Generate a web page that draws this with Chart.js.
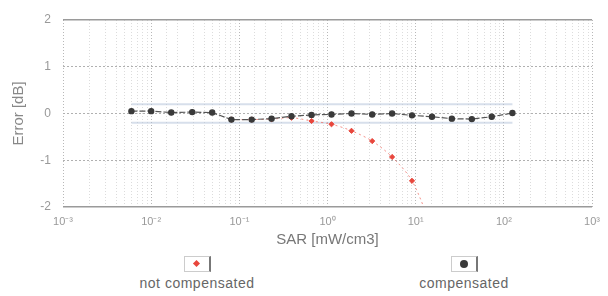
<!DOCTYPE html>
<html>
<head>
<meta charset="utf-8">
<script src="https://cdn.jsdelivr.net/npm/chart.js@4"></script>
<style>
body { margin: 0; background: #fff; font-family: "Liberation Sans", Arial, sans-serif; }
#wrap { position: relative; width: 608px; height: 296px; }
#chart { position: absolute; left: 0; top: 0; }
.leg { position: absolute; top: 256px; width: 180px; text-align: center; color: #666; font-size: 14px; letter-spacing: 0.5px; }
.box { position: relative; width: 24px; height: 14px; margin: 0 auto 3px; border: 1px solid #ccc; border-right: 2px solid #777; background: #fff; }
.diamond { position: absolute; left: 9px; top: 4px; width: 5px; height: 5px; background: #e8463c; transform: rotate(45deg); }
.dot { position: absolute; left: 8px; top: 3px; width: 8px; height: 8px; border-radius: 50%; background: #3a3a3a; }
</style>
</head>
<body>
<div id="wrap">
    <canvas id="chart" width="608" height="252"></canvas>
    <div class="leg" style="left:107px"><div class="box"><div class="diamond"></div></div>not compensated</div>
    <div class="leg" style="left:374px"><div class="box"><div class="dot"></div></div>compensated</div>
</div>
<script>
// SAR values in mW/cm3 (log axis)
const sar = [0.00597, 0.0100, 0.0169, 0.0292, 0.0492, 0.0813, 0.138, 0.232, 0.390, 0.659,
             1.11, 1.87, 3.21, 5.40, 9.08, 15.3, 25.7, 43.3, 72.8, 125];
const compensated = [0.05, 0.05, 0.02, 0.03, 0.02, -0.13, -0.13, -0.11, -0.06, -0.03,
                     -0.02, 0.00, -0.02, 0.00, -0.04, -0.07, -0.11, -0.12, -0.07, 0.01];

const sarNotComp = [0.0813, 0.138, 0.232, 0.390, 0.659, 1.11, 1.87, 3.21, 5.40, 9.08, 15.3];
const notCompensated = [-0.13, -0.13, -0.12, -0.09, -0.16, -0.23, -0.37, -0.59, -0.93, -1.44, -2.45];

// tolerance band +-0.2 dB over the measured range
const bandX = [0.00597, 125];
const bandUpper = [0.2, 0.2];
const bandLower = [-0.2, -0.2];

const yTicks = [-2, -1, 0, 1, 2];

const sup = { "-": "\u207B", "0": "\u2070", "1": "\u00B9", "2": "\u00B2", "3": "\u00B3" };
function pow10Label(v) {
    const e = Math.log10(v);
    const r = Math.round(e);
    if (Math.abs(e - r) > 1e-6) return "";
    return "10" + String(r).split("").map(c => sup[c]).join("");
}
function isDecade(v) {
    const e = Math.log10(v);
    return Math.abs(e - Math.round(e)) < 1e-6;
}

const toPoints = (xs, ys) => xs.map((x, i) => ({ x: x, y: ys[i] }));

new Chart(document.getElementById("chart").getContext("2d"), {
    type: "line",
    data: {
        datasets: [{
            label: "compensated",
            data: toPoints(sar, compensated),
            borderColor: "#555",
            borderWidth: 1.2,
            borderDash: [6, 2],
            backgroundColor: "#3a3a3a",
            pointBackgroundColor: "#3a3a3a",
            pointBorderColor: "#3a3a3a",
            pointRadius: 2.6,
            tension: 0
        }, {
            label: "not compensated",
            data: toPoints(sarNotComp, notCompensated),
            borderColor: "rgba(240,110,100,0.75)",
            borderWidth: 1,
            borderDash: [2, 3],
            pointStyle: "rectRot",
            pointBackgroundColor: "#e8463c",
            pointBorderColor: "#e8463c",
            pointRadius: 2.6,
            tension: 0.3
        }, {
            label: "upper",
            data: toPoints(bandX, bandUpper),
            borderColor: "rgba(175,192,215,0.5)",
            borderWidth: 2,
            pointRadius: 0
        }, {
            label: "lower",
            data: toPoints(bandX, bandLower),
            borderColor: "rgba(175,192,215,0.5)",
            borderWidth: 2,
            pointRadius: 0
        }]
    },
    options: {
        responsive: false,
        animation: false,
        layout: { padding: { top: 20, right: 14, left: 0, bottom: 0 } },
        plugins: {
            legend: { display: false },
            tooltip: { enabled: false }
        },
        scales: {
            x: {
                type: "logarithmic",
                min: 0.001,
                max: 1000,
                afterFit: s => { s.height = 45; },
                border: { display: false, dash: [1, 2] },
                grid: {
                    drawTicks: false,
                    color: c => isDecade(c.tick.value) ? "#b8b8b8" : "#dcdcdc",
                    lineWidth: 1
                },
                ticks: {
                    autoSkip: false,
                    maxRotation: 0,
                    padding: 8,
                    color: "#999",
                    font: { family: "Liberation Sans", size: 11 },
                    callback: v => pow10Label(v)
                },
                title: {
                    display: true,
                    text: "SAR [mW/cm3]",
                    color: "#777",
                    font: { family: "Liberation Sans", size: 15 },
                    padding: { top: 0, bottom: 3 }
                }
            },
            y: {
                min: -2,
                max: 2,
                afterFit: s => { s.width = 63; },
                afterBuildTicks: s => { s.ticks = yTicks.map(v => ({ value: v })); },
                border: {
                    display: false,
                    dash: c => Math.abs(c.tick.value) === 2 ? [] : [2, 2]
                },
                grid: {
                    drawTicks: false,
                    color: c => Math.abs(c.tick.value) === 2 ? "#9a9a9a" : "#b0b0b0",
                    lineWidth: c => Math.abs(c.tick.value) === 2 ? 1.5 : 1
                },
                ticks: {
                    padding: 12,
                    color: "#999",
                    font: { family: "Liberation Sans", size: 12 }
                },
                title: {
                    display: true,
                    text: "Error [dB]",
                    color: "#888",
                    font: { family: "Liberation Sans", size: 15 },
                    padding: { top: 10, bottom: 0 }
                }
            }
        }
    }
});
</script>
</body>
</html>
